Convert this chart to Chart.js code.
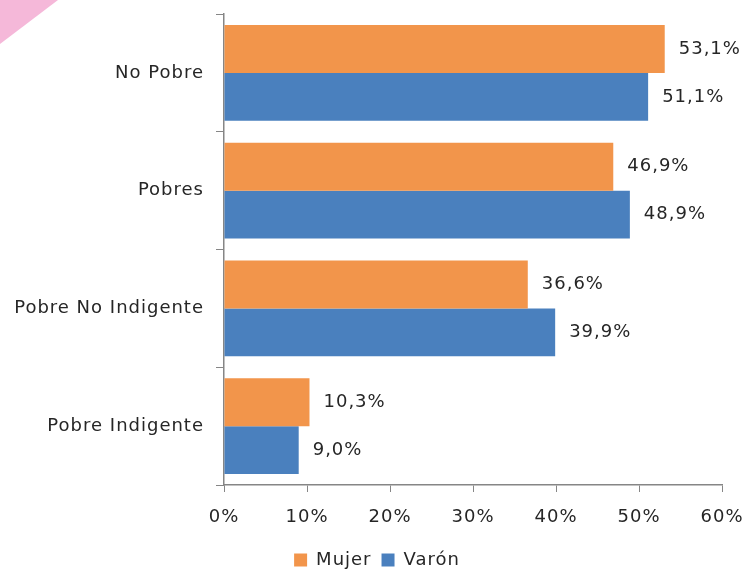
<!DOCTYPE html>
<html>
<head>
<meta charset="utf-8">
<script src="https://cdn.jsdelivr.net/npm/chart.js@4"></script>
<style>
  html, body { margin: 0; padding: 0; background: #fff; }
  #wrap { position: relative; width: 750px; height: 571px; overflow: hidden; }
  #corner {
    position: absolute; left: 0; top: 0; width: 58px; height: 44px;
    background: #f5b8d9; clip-path: polygon(0 0, 100% 0, 0 100%);
  }
  canvas { position: absolute; left: 0; top: 0; }
</style>
</head>
<body>
<div id="wrap">
  <div id="corner"></div>
  <canvas id="povertyChart" width="750" height="571"></canvas>
</div>
<script>
const categories = ['No Pobre', 'Pobres', 'Pobre No Indigente', 'Pobre Indigente'];
const mujer = [53.1, 46.9, 36.6, 10.3];
const varon = [51.1, 48.9, 39.9, 9.0];
const xTicks = [0, 10, 20, 30, 40, 50, 60];

const FONT = 'DejaVu Sans';
const fmt = v => v.toFixed(1).replace('.', ',') + '%';

// wider letter spacing like the original
const spacing = {
    id: 'spacing',
    beforeLayout(chart) { chart.ctx.letterSpacing = '1px'; },
    beforeDraw(chart) { chart.ctx.letterSpacing = '1px'; },
    afterLayout(chart) {
        // nudge legend to the right
        chart.legend.left += 16;
        chart.legend.right += 16;
    }
};

// draws value labels right of each bar
const barLabels = {
    id: 'barLabels',
    afterDatasetsDraw(chart) {
        const ctx = chart.ctx;
        ctx.save();
        ctx.letterSpacing = '1px';
        ctx.font = '18px "' + FONT + '"';
        ctx.fillStyle = '#262626';
        ctx.textBaseline = 'middle';
        chart.data.datasets.forEach((ds, i) => {
            chart.getDatasetMeta(i).data.forEach((bar, j) => {
                ctx.fillText(fmt(ds.data[j]), bar.x + 14, bar.y);
            });
        });
        ctx.restore();
    }
};

const ctx = document.getElementById('povertyChart').getContext('2d');
const chart = new Chart(ctx, {
    type: 'bar',
    data: {
        labels: categories,
        datasets: [{
            label: 'Mujer',
            data: mujer,
            backgroundColor: '#f2954b',
            barPercentage: 1,
            categoryPercentage: 0.815
        }, {
            label: 'Varón',
            data: varon,
            backgroundColor: '#4a80be',
            barPercentage: 1,
            categoryPercentage: 0.815
        }]
    },
    options: {
        indexAxis: 'y',
        responsive: false,
        animation: false,
        layout: { padding: { top: 14, right: 28, left: 0, bottom: -8 } },
        plugins: {
            legend: {
                position: 'bottom',
                labels: {
                    boxWidth: 13,
                    boxHeight: 13,
                    padding: 10,
                    color: '#262626',
                    font: { family: FONT, size: 18 }
                }
            },
            tooltip: { enabled: false }
        },
        scales: {
            x: {
                min: 0,
                max: 60,
                afterBuildTicks: scale => { scale.ticks = xTicks.map(v => ({ value: v })); },
                afterFit: scale => {
                    scale.height = 56;
                    scale.paddingLeft = 0;
                    scale.paddingRight = 0;
                },
                ticks: {
                    callback: v => v + '%',
                    color: '#262626',
                    padding: 15,
                    font: { family: FONT, size: 18 }
                },
                grid: { drawOnChartArea: false, tickLength: 7, color: '#868686' },
                border: { color: '#868686', width: 1.5 }
            },
            y: {
                afterFit: scale => {
                    scale.width = 224;
                    scale.paddingTop = 0;
                    scale.paddingBottom = 0;
                },
                ticks: {
                    color: '#262626',
                    padding: 12,
                    font: { family: FONT, size: 18 }
                },
                grid: { drawOnChartArea: false, tickLength: 8, color: '#868686' },
                border: { color: '#868686', width: 1.5 }
            }
        }
    },
    plugins: [spacing, barLabels]
});
</script>
</body>
</html>
